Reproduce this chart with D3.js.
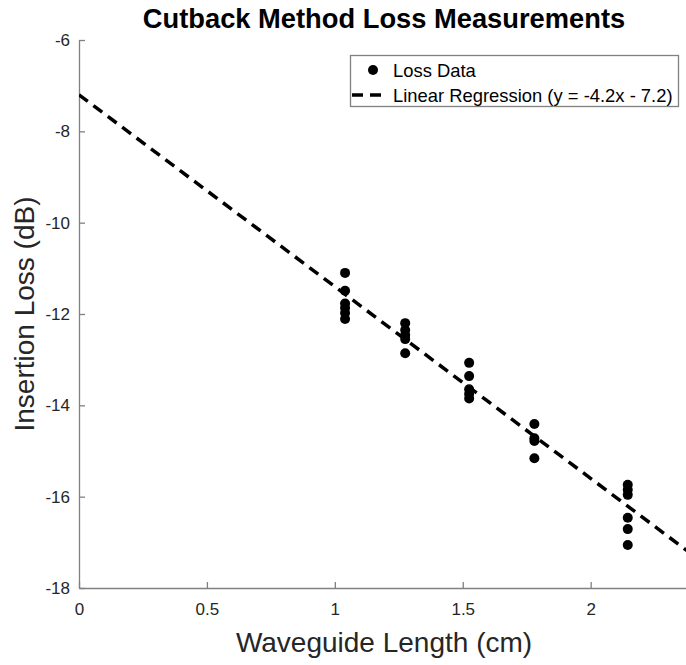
<!DOCTYPE html>
<html>
<head>
<meta charset="utf-8">
<script src="https://cdn.jsdelivr.net/npm/d3@7"></script>
<style>
  html, body { margin: 0; padding: 0; background: #fff; }
  svg { display: block; }
  text { font-family: "Liberation Sans", Arial, sans-serif; }
</style>
</head>
<body>
<svg id="chart" width="686" height="665"></svg>
<script>
// Waveguide lengths (cm) for each measured sample
const lengths = [
  1.04, 1.04, 1.04, 1.04, 1.04, 1.04,
  1.275, 1.275, 1.275, 1.275, 1.275,
  1.525, 1.525, 1.525, 1.525, 1.525,
  1.78, 1.78, 1.78, 1.78,
  2.145, 2.145, 2.145, 2.145, 2.145, 2.145
];
// Measured insertion loss (dB) for each sample
const losses = [
  -11.10, -11.49, -11.77, -11.87, -11.98, -12.11,
  -12.20, -12.35, -12.46, -12.55, -12.86,
  -13.07, -13.36, -13.65, -13.75, -13.85,
  -14.41, -14.72, -14.78, -15.16,
  -15.74, -15.85, -15.96, -16.46, -16.71, -17.06
];
// Linear fit: y = slope * x + intercept
const fitSlope = -4.2;
const fitIntercept = -7.2;

const xTicks = [0, 0.5, 1, 1.5, 2];
const yTicks = [-18, -16, -14, -12, -10, -8, -6];

const xDomain = [0, 2.4];
const yDomain = [-18, -6];

const svg = d3.select("#chart");
const margin = { left: 79, top: 40, bottom: 77 };
const plotW = 614;
const plotH = 665 - margin.top - margin.bottom;

const x = d3.scaleLinear().domain(xDomain).range([margin.left, margin.left + plotW]);
const y = d3.scaleLinear().domain(yDomain).range([margin.top + plotH, margin.top]);

const axisColor = "#808080";
const textColor = "#262626";

// Axes with inward ticks
const gx = svg.append("g")
  .attr("transform", `translate(0,${y(-18)})`)
  .call(d3.axisBottom(x).tickValues(xTicks).tickFormat(d3.format("")).tickSizeInner(-6).tickSizeOuter(0).tickPadding(15));
const gy = svg.append("g")
  .attr("transform", `translate(${x(0)},0)`)
  .call(d3.axisLeft(y).tickValues(yTicks).tickSizeInner(-6).tickSizeOuter(0).tickPadding(9));

[gx, gy].forEach(g => {
  g.select(".domain").attr("stroke", axisColor).attr("stroke-width", 1.3);
  g.selectAll(".tick line").attr("stroke", axisColor).attr("stroke-width", 1.3);
  g.selectAll(".tick text")
    .attr("fill", textColor)
    .style("font-size", "17px")
    .style("font-family", "'Liberation Sans', Arial, sans-serif");
});
gy.selectAll(".tick text").text(d => d < 0 ? "-" + Math.abs(d) : d);

// Clip to the plot area
svg.append("clipPath").attr("id", "plotClip")
  .append("rect")
  .attr("x", x(0)).attr("y", y(-6))
  .attr("width", plotW).attr("height", plotH);

// Regression line
const fitPts = xDomain.map(v => [v, fitSlope * v + fitIntercept]);
svg.append("path")
  .attr("clip-path", "url(#plotClip)")
  .attr("d", d3.line().x(d => x(d[0])).y(d => y(d[1]))(fitPts))
  .attr("fill", "none")
  .attr("stroke", "#000")
  .attr("stroke-width", 3.5)
  .attr("stroke-dasharray", "11,7");

// Measured data points
svg.append("g").selectAll("circle")
  .data(lengths.map((l, i) => [l, losses[i]]))
  .join("circle")
  .attr("cx", d => x(d[0]))
  .attr("cy", d => y(d[1]))
  .attr("r", 5)
  .attr("fill", "#000");

// Title
svg.append("text")
  .attr("x", 384).attr("y", 28)
  .attr("text-anchor", "middle")
  .attr("fill", "#000")
  .style("font-size", "27.3px")
  .style("font-weight", "bold")
  .text("Cutback Method Loss Measurements");

// Axis labels
svg.append("text")
  .attr("x", 384).attr("y", 652)
  .attr("text-anchor", "middle")
  .attr("fill", textColor)
  .style("font-size", "28px")
  .text("Waveguide Length (cm)");

svg.append("text")
  .attr("transform", `translate(34,${y(-12)}) rotate(-90)`)
  .attr("text-anchor", "middle")
  .attr("fill", textColor)
  .style("font-size", "28px")
  .text("Insertion Loss (dB)");

// Legend
const lg = svg.append("g");
lg.append("rect")
  .attr("x", 350.5).attr("y", 55.5)
  .attr("width", 328).attr("height", 51)
  .attr("fill", "#fff")
  .attr("stroke", axisColor)
  .attr("stroke-width", 1.3);
lg.append("circle").attr("cx", 373).attr("cy", 70).attr("r", 5).attr("fill", "#000");
lg.append("text").attr("x", 393).attr("y", 77)
  .attr("fill", "#000").style("font-size", "18.4px").text("Loss Data");
lg.append("line")
  .attr("x1", 352).attr("x2", 387).attr("y1", 95).attr("y2", 95)
  .attr("stroke", "#000").attr("stroke-width", 3.5).attr("stroke-dasharray", "11,7");
lg.append("text").attr("x", 393).attr("y", 102)
  .attr("fill", "#000").style("font-size", "18.4px")
  .text("Linear Regression (y = -4.2x - 7.2)");
</script>
</body>
</html>
